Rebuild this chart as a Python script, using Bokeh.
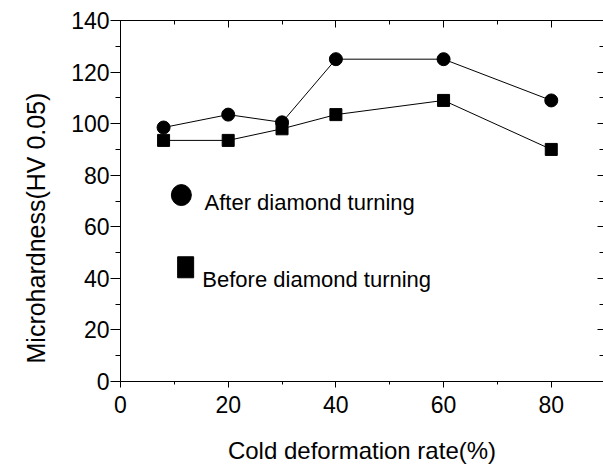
from bokeh.plotting import figure
from bokeh.models import (LinearAxis, SingleIntervalTicker, Range1d, Label,
                          CustomJSTickFormatter, Title)
from bokeh.embed import file_html
from bokeh.resources import INLINE

# ---- data ----
deformation = [8, 20, 30, 40, 60, 80]               # Cold deformation rate (%)
after_turning = [98.5, 103.5, 100.5, 125, 125, 109]   # HV 0.05
before_turning = [93.5, 93.5, 98, 103.5, 109, 90]     # HV 0.05
series_names = ["After diamond turning", "Before diamond turning"]
x_label = "Cold deformation rate(%)"
y_label = "Microhardness(HV 0.05)"

FONT = "Liberation Sans"

p = figure(width=603, height=469, x_range=Range1d(0, 89.7), y_range=Range1d(0, 140),
           output_backend="svg", toolbar_location=None,
           min_border_left=120, min_border_right=0, min_border_top=20,
           min_border_bottom=88)
p.grid.visible = False
p.outline_line_color = None
p.background_fill_color = "white"
p.border_fill_color = "white"

# bottom axis
xa = p.xaxis[0]
xa.ticker = SingleIntervalTicker(interval=20, num_minor_ticks=2)
xa.axis_label = x_label
xa.axis_label_text_font = FONT
xa.axis_label_text_font_size = "24px"
xa.axis_label_text_font_style = "normal"
xa.axis_label_text_color = "black"
xa.axis_label_standoff = 21
xa.major_label_text_font = FONT
xa.major_label_text_font_size = "23px"
xa.major_label_text_color = "black"
xa.major_label_standoff = 8
xa.major_tick_out = 6
xa.major_tick_in = 0
xa.minor_tick_out = 3
xa.minor_tick_in = 0
xa.axis_line_color = "black"
xa.major_tick_line_color = "black"
xa.minor_tick_line_color = "black"

# left axis
ya = p.yaxis[0]
ya.ticker = SingleIntervalTicker(interval=20, num_minor_ticks=2)
ya.major_label_text_font = FONT
ya.major_label_text_font_size = "23px"
ya.major_label_text_color = "black"
ya.major_label_standoff = 1
ya.major_tick_out = 10
ya.major_tick_in = 0
ya.minor_tick_out = 5
ya.minor_tick_in = 0
ya.axis_line_color = "black"
ya.major_tick_line_color = "black"
ya.minor_tick_line_color = "black"

# y axis title, placed like the reference (below the frame centre)
p.add_layout(Title(text=y_label, align="left", offset=18, standoff=38,
                   text_font=FONT, text_font_size="25px",
                   text_font_style="normal", text_color="black"), "left")

blank = CustomJSTickFormatter(code="return ''")
top = LinearAxis(ticker=SingleIntervalTicker(interval=20, num_minor_ticks=2),
                 formatter=blank, major_tick_in=7, major_tick_out=0,
                 minor_tick_in=4, minor_tick_out=0, major_label_standoff=0,
                 major_label_text_font_size="0px", axis_line_color="black")
p.add_layout(top, "above")
right = LinearAxis(ticker=SingleIntervalTicker(interval=20, num_minor_ticks=2),
                   formatter=blank, major_tick_in=6, major_tick_out=0,
                   minor_tick_in=4, minor_tick_out=0, major_label_standoff=0,
                   major_label_text_font_size="0px", axis_line_color=None)
p.add_layout(right, "right")

# data lines and markers
p.line(deformation, after_turning, line_color="black", line_width=1)
p.line(deformation, before_turning, line_color="black", line_width=1)
p.scatter(deformation, after_turning, marker="circle", size=13,
          fill_color="black", line_color="black")
p.scatter(deformation, before_turning, marker="square", size=12,
          fill_color="black", line_color="black")

# hand-placed legend
p.ellipse([11.3], [72.3], width=20, height=21, width_units="screen",
          height_units="screen", fill_color="black", line_color="black")
p.rect([12.1], [44.3], width=16, height=21, width_units="screen",
       height_units="screen", fill_color="black", line_color="black")
p.add_layout(Label(x=15.6, y=69.3, text=series_names[0], text_font=FONT,
                   text_font_size="22px", text_baseline="alphabetic",
                   text_color="black"))
p.add_layout(Label(x=15.2, y=39.7, text=series_names[1], text_font=FONT,
                   text_font_size="22px", text_baseline="alphabetic",
                   text_color="black"))

open("out.html", "w").write(file_html(p, INLINE))
